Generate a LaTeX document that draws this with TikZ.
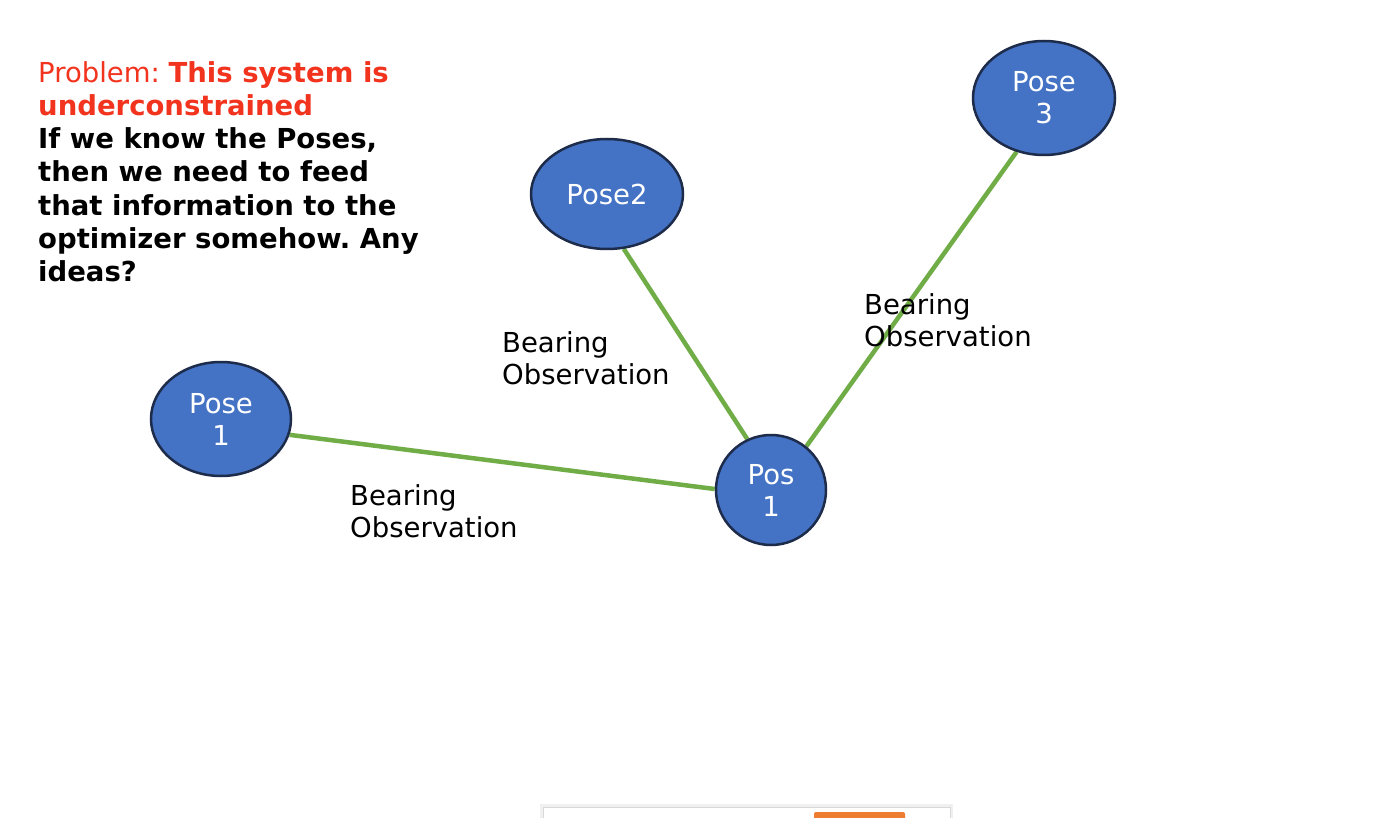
\documentclass[tikz,border=0pt]{standalone}
\usepackage{fontspec}
\setmainfont{DejaVu Sans}
\usetikzlibrary{shapes.geometric,backgrounds}
\definecolor{poseblue}{RGB}{68,114,196}
\definecolor{poseedge}{RGB}{30,44,76}
\definecolor{obsgreen}{RGB}{112,173,71}
\definecolor{alertred}{RGB}{242,52,30}
\definecolor{dlgorange}{RGB}{237,125,49}
\frenchspacing

\begin{document}
\begin{tikzpicture}[x=1pt,y=-1pt,
  pose/.style={ellipse, draw=poseedge, fill=poseblue, line width=2.5pt,
    inner sep=0pt, text=white, align=center,
    font=\fontsize{27.5}{32}\selectfont},
  obs/.style={draw=obsgreen, line width=4.5pt},
  obslabel/.style={anchor=north west, inner sep=0pt, align=left,
    font=\fontsize{27.5}{32.5}\selectfont},
  note/.style={anchor=north west, inner sep=0pt, align=left,
    font=\fontsize{27.5}{33.3}\selectfont}]
\useasboundingbox (0,0) rectangle (1392,818);

% pose graph nodes
\node[pose, minimum width=140pt, minimum height=114pt] (p1) at (221,419) {Pose\\1};
\node[pose, minimum width=152pt, minimum height=110pt] (p2) at (607,194) {Pose2};
\node[pose, minimum width=142pt, minimum height=114pt] (p3) at (1044,98) {Pose\\3};
\node[pose, minimum width=110pt, minimum height=110pt] (c) at (771,490) {Pos\\1};

% bearing observation edges, kept behind the nodes
\begin{scope}[on background layer]
  \fill[white] (0,0) rectangle (1392,818);
  \draw[obs] (p1.-13) -- (c.179);
  \draw[obs] (p2.-73) -- (c.115);
  \draw[obs] (p3.-117) -- (c.51);
\end{scope}

% edge labels
\node[obslabel] (l1) at (350,484) {Bearing\\Observation};
\node[obslabel] (l2) at (502,331) {Bearing\\Observation};
\node[obslabel] (l3) at (864,293) {Bearing\\Observation};

% problem statement
\node[note] (msg) at (38,61) {%
  {\color{alertred}Problem: \textbf{This system is}}\\
  {\color{alertred}\textbf{underconstrained}}\\
  \textbf{If we know the Poses,}\\
  \textbf{then we need to feed}\\
  \textbf{that information to the}\\
  \textbf{optimizer somehow. Any}\\
  \textbf{ideas?}};

% dialog panel at the lower edge
\fill[black!6] (540,804) rectangle (953,818);
\filldraw[draw=black!15, fill=white, line width=0.8pt] (543,807) rectangle (950,822);
\fill[dlgorange, rounded corners=2pt] (814,812) rectangle (905,830);
\end{tikzpicture}
\end{document}
